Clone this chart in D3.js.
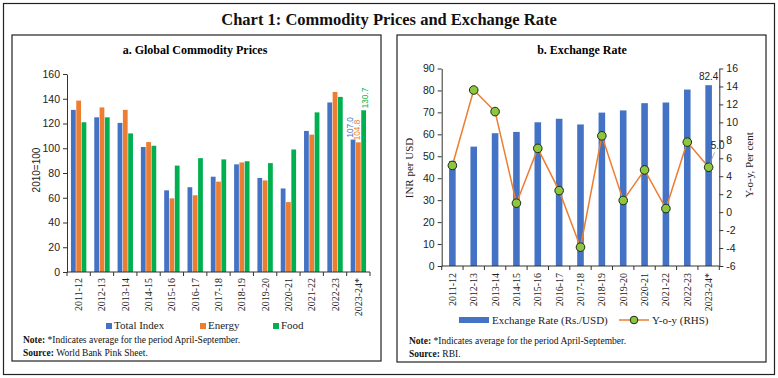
<!DOCTYPE html>
<html><head><meta charset="utf-8">
<script src="https://cdn.jsdelivr.net/npm/d3@7"></script>
<style>body{margin:0;background:#fff}svg{display:block}</style>
</head><body>
<svg id="c" width="778" height="378"></svg>
<script>
const years = ["2011-12","2012-13","2013-14","2014-15","2015-16","2016-17","2017-18","2018-19","2019-20","2020-21","2021-22","2022-23","2023-24*"];
const totalIndex = [131,125,120.5,101,66,68.5,77,87,76,67.5,114,137,107.0];
const energy = [138.5,133,131,105,59.5,62,73,88.5,74,56.5,111,145.5,104.8];
const food = [121,125,112,102,86,92,91,89.5,88,99,129,141.5,130.7];
const leftTicks = [0,20,40,60,80,100,120,140,160];
const exRate = [47.9,54.4,60.5,61.1,65.5,67.1,64.5,69.9,70.9,74.2,74.5,80.4,82.4];
const yoy = [5.2,13.6,11.2,1.0,7.1,2.4,-3.9,8.5,1.3,4.7,0.4,7.8,5.0];
const inrTicks = [0,10,20,30,40,50,60,70,80,90];
const yoyTicks = [-6,-4,-2,0,2,4,6,8,10,12,14,16];
const seriesNames = ["Total Index","Energy","Food"];
const colors = ["#4472C4","#ED7D31","#00B050"];

const svg = d3.select("#c");
const serif = "Liberation Serif, DejaVu Serif, serif";
const sans = "Liberation Sans, Arial, sans-serif";

// outer frame
svg.append("rect").attr("x",3.5).attr("y",3.5).attr("width",771).attr("height",371).attr("fill","none").attr("stroke","#222").attr("stroke-width",1.2);
svg.append("text").attr("x",389).attr("y",25).attr("text-anchor","middle").attr("font-family",serif).attr("font-weight","bold").attr("font-size",16.5).attr("fill","#111").text("Chart 1: Commodity Prices and Exchange Rate");
// panels
svg.append("rect").attr("x",12).attr("y",35).attr("width",369).attr("height",326).attr("fill","none").attr("stroke","#222").attr("stroke-width",1.2);
svg.append("rect").attr("x",397).attr("y",35).attr("width",369).attr("height",327).attr("fill","none").attr("stroke","#222").attr("stroke-width",1.2);

// ---------- Left chart ----------
const L = svg.append("g");
L.append("text").attr("x",195).attr("y",54).attr("text-anchor","middle").attr("font-family",serif).attr("font-weight","bold").attr("font-size",12).text("a. Global Commodity Prices");
const x1 = d3.scaleBand().domain(years).range([67,370]);
const xs = d3.scaleBand().domain([0,1,2]).range([x1.bandwidth()*0.17, x1.bandwidth()*0.83]).paddingInner(0.1);
const y1 = d3.scaleLinear().domain([0,160]).range([272,74]);
const data1 = [totalIndex, energy, food];
data1.forEach((arr,si)=>{
  L.append("g").selectAll("rect").data(arr).join("rect")
    .attr("x",(d,i)=>x1(years[i])+xs(si)).attr("width",xs.bandwidth())
    .attr("y",d=>y1(d)).attr("height",d=>y1(0)-y1(d)).attr("fill",colors[si]);
});
// labels for last group
const lastIdx = years.length-1;
const labOff = [0, 2, 4.5];
data1.forEach((arr,si)=>{
  const cx = x1(years[lastIdx])+xs(si)+xs.bandwidth()/2;
  const cy = y1(arr[lastIdx]) - 2;
  L.append("text").attr("transform",`translate(${cx+labOff[si]},${cy}) rotate(-90)`).attr("font-family",sans).attr("font-size",8.2).attr("fill",colors[si]).text(arr[lastIdx].toFixed(1));
});
const ya1 = L.append("g").attr("transform","translate(67,0)").call(d3.axisLeft(y1).tickValues(leftTicks).tickSize(4).tickSizeOuter(0));
ya1.select(".domain").attr("stroke","#333");
ya1.selectAll("line").attr("stroke","#333");
ya1.selectAll("text").attr("font-family",sans).attr("font-size",10.5).attr("fill","#222");
// x axis
L.append("line").attr("x1",67).attr("x2",370).attr("y1",272).attr("y2",272).attr("stroke","#333");
L.selectAll(".xt").data(years.concat(["end"])).join("line")
  .attr("x1",(d,i)=>67+i*x1.step()).attr("x2",(d,i)=>67+i*x1.step()).attr("y1",272).attr("y2",276).attr("stroke","#333");
L.selectAll(".xl").data(years).join("text")
  .attr("transform",d=>`translate(${x1(d)+x1.bandwidth()/2+3.5},278) rotate(-90)`)
  .attr("text-anchor","end").attr("font-family",serif).attr("font-size",10).attr("fill","#222").text(d=>d);
L.append("text").attr("transform","translate(40,170) rotate(-90)").attr("text-anchor","middle").attr("font-family",sans).attr("font-size",10).attr("fill","#222").text("2010=100");
// legend
const legX = [106,200,273];
seriesNames.forEach((n,i)=>{
  L.append("rect").attr("x",legX[i]).attr("y",323).attr("width",6).attr("height",6).attr("fill",colors[i]);
  L.append("text").attr("x",legX[i]+8).attr("y",329).attr("font-family",serif).attr("font-size",11).attr("fill","#222").text(n);
});
const n1 = L.append("text").attr("x",23).attr("y",343).attr("font-family",serif).attr("font-size",9.5).attr("fill","#111");
n1.append("tspan").attr("font-weight","bold").text("Note:");
n1.append("tspan").text(" *Indicates average for the period April-September.");
const s1 = L.append("text").attr("x",23).attr("y",356).attr("font-family",serif).attr("font-size",9.5).attr("fill","#111");
s1.append("tspan").attr("font-weight","bold").text("Source:");
s1.append("tspan").text(" World Bank Pink Sheet.");

// ---------- Right chart ----------
const R = svg.append("g");
R.append("text").attr("x",582).attr("y",54).attr("text-anchor","middle").attr("font-family",serif).attr("font-weight","bold").attr("font-size",12).text("b. Exchange Rate");
const x2 = d3.scaleBand().domain(years).range([441.7,719.3]);
const y2 = d3.scaleLinear().domain([0,90]).range([266,68.5]);
const y3 = d3.scaleLinear().domain([-6,16]).range([266,68.5]);
const bw2 = 6.6;
R.append("g").selectAll("rect").data(exRate).join("rect")
  .attr("x",(d,i)=>x2(years[i])+x2.bandwidth()/2-bw2/2).attr("width",bw2)
  .attr("y",d=>y2(d)).attr("height",d=>y2(0)-y2(d)).attr("fill","#4472C4");
const ya2 = R.append("g").attr("transform","translate(441.7,0)").call(d3.axisLeft(y2).tickValues(inrTicks).tickSize(4).tickSizeOuter(0));
const ya3 = R.append("g").attr("transform","translate(719.3,0)").call(d3.axisRight(y3).tickValues(yoyTicks).tickSize(4).tickSizeOuter(0).tickFormat(d=>String(d)));
[ya2,ya3].forEach(a=>{a.select(".domain").attr("stroke","#333");a.selectAll("line").attr("stroke","#333");a.selectAll("text").attr("font-family",sans).attr("font-size",10.5).attr("fill","#222");});
R.append("line").attr("x1",441.7).attr("x2",719.3).attr("y1",266).attr("y2",266).attr("stroke","#333");
R.selectAll(".xt").data(years.concat(["end"])).join("line")
  .attr("x1",(d,i)=>441.7+i*x2.step()).attr("x2",(d,i)=>441.7+i*x2.step()).attr("y1",266).attr("y2",270).attr("stroke","#333");
R.selectAll(".xl").data(years).join("text")
  .attr("transform",d=>`translate(${x2(d)+x2.bandwidth()/2+3.5},273) rotate(-90)`)
  .attr("text-anchor","end").attr("font-family",serif).attr("font-size",10).attr("fill","#222").text(d=>d);
// line
const lineGen = d3.line().x((d,i)=>x2(years[i])+x2.bandwidth()/2).y(d=>y3(d));
R.append("path").datum(yoy).attr("d",lineGen).attr("fill","none").attr("stroke","#ED7D31").attr("stroke-width",1.5);
R.append("g").selectAll("circle").data(yoy).join("circle")
  .attr("cx",(d,i)=>x2(years[i])+x2.bandwidth()/2).attr("cy",d=>y3(d)).attr("r",4.3)
  .attr("fill","#8DC63F").attr("stroke","#1e2a10").attr("stroke-width",1);
// labels
const lx = x2(years[lastIdx])+x2.bandwidth()/2;
R.append("text").attr("x",lx).attr("y",y2(exRate[lastIdx])-5).attr("text-anchor","middle").attr("font-family",sans).attr("font-size",10).attr("fill","#222").text(exRate[lastIdx].toFixed(1));
R.append("line").attr("x1",lx+6).attr("y1",y3(yoy[lastIdx])-15).attr("x2",lx+1).attr("y2",y3(yoy[lastIdx])-3).attr("stroke","#999").attr("stroke-width",0.8);
R.append("text").attr("x",lx+9).attr("y",y3(yoy[lastIdx])-18).attr("text-anchor","middle").attr("font-family",sans).attr("font-size",10).attr("fill","#222").text(yoy[lastIdx].toFixed(1));
R.append("text").attr("transform","translate(413,168) rotate(-90)").attr("text-anchor","middle").attr("font-family",serif).attr("font-size",11).attr("fill","#222").text("INR per USD");
R.append("text").attr("transform","translate(753,165) rotate(-90)").attr("text-anchor","middle").attr("font-family",serif).attr("font-size",11).attr("fill","#222").text("Y-o-y, Per cent");
// legend
R.append("rect").attr("x",459).attr("y",317).attr("width",30).attr("height",6).attr("fill","#4472C4");
R.append("text").attr("x",492).attr("y",324).attr("font-family",serif).attr("font-size",11).attr("fill","#222").text("Exchange Rate (Rs./USD)");
R.append("line").attr("x1",619).attr("x2",649).attr("y1",320).attr("y2",320).attr("stroke","#ED7D31").attr("stroke-width",1.5);
R.append("circle").attr("cx",634).attr("cy",320).attr("r",3.8).attr("fill","#8DC63F").attr("stroke","#1e2a10");
R.append("text").attr("x",652).attr("y",324).attr("font-family",serif).attr("font-size",11).attr("fill","#222").text("Y-o-y (RHS)");
const n2 = R.append("text").attr("x",409).attr("y",344).attr("font-family",serif).attr("font-size",9.5).attr("fill","#111");
n2.append("tspan").attr("font-weight","bold").text("Note:");
n2.append("tspan").text(" *Indicates average for the period April-September.");
const s2 = R.append("text").attr("x",409).attr("y",357).attr("font-family",serif).attr("font-size",9.5).attr("fill","#111");
s2.append("tspan").attr("font-weight","bold").text("Source:");
s2.append("tspan").text(" RBI.");
</script>
</body></html>
